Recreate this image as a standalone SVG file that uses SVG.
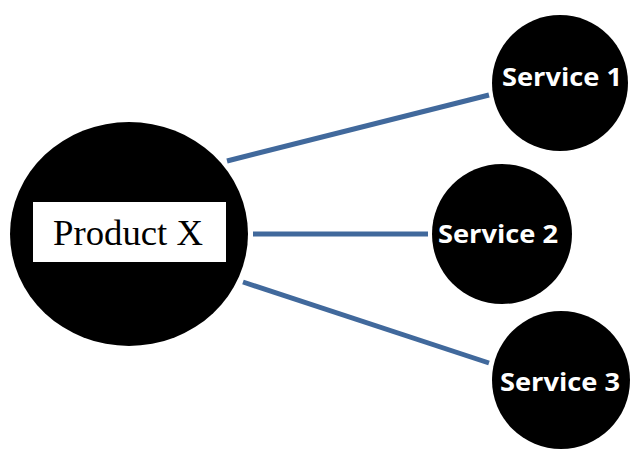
<svg xmlns="http://www.w3.org/2000/svg" width="634" height="452" viewBox="0 0 634 452">
  <style>
    .node { fill: #000000; }
    .label-box { fill: #ffffff; }
    .product { font-family: "Liberation Serif", "Times New Roman", serif; font-size: 36px; fill: #000000; }
    .service { font-family: "Open Sans", "Liberation Sans", sans-serif; font-weight: 700; font-size: 25px; fill: #ffffff; }
    .link { stroke: #41699c; stroke-width: 5; fill: none; }
  </style>

  <g id="connectors">
    <line class="link" x1="227" y1="161" x2="489" y2="95"/>
    <line class="link" x1="253" y1="234" x2="428" y2="234"/>
    <line class="link" x1="243" y1="282" x2="489" y2="363"/>
  </g>

  <g id="product-x">
    <ellipse class="node" cx="129" cy="234" rx="119" ry="112"/>
    <rect class="label-box" x="33" y="202" width="193" height="60"/>
    <text class="product" x="53" y="245" textLength="150" lengthAdjust="spacingAndGlyphs">Product X</text>
  </g>

  <g id="service-1">
    <circle class="node" cx="560" cy="83" r="68"/>
    <text class="service" x="502" y="86" textLength="120" lengthAdjust="spacingAndGlyphs">Service 1</text>
  </g>

  <g id="service-2">
    <circle class="node" cx="502" cy="234" r="70"/>
    <text class="service" x="438" y="243" textLength="120" lengthAdjust="spacingAndGlyphs">Service 2</text>
  </g>

  <g id="service-3">
    <circle class="node" cx="561" cy="380" r="69"/>
    <text class="service" x="500" y="391" textLength="120" lengthAdjust="spacingAndGlyphs">Service 3</text>
  </g>
</svg>
